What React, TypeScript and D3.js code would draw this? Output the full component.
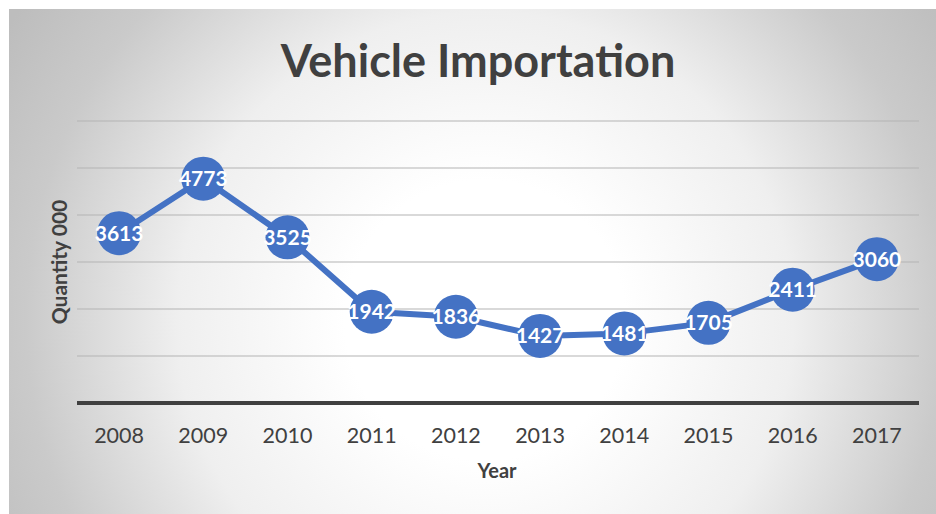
import React from "react";
import * as d3 from "d3";

const years = ["2008", "2009", "2010", "2011", "2012", "2013", "2014", "2015", "2016", "2017"];
const quantities = [3613, 4773, 3525, 1942, 1836, 1427, 1481, 1705, 2411, 3060];
const gridValues = [1000, 2000, 3000, 4000, 5000, 6000];
const titleText = "Vehicle Importation";
const xTitle = "Year";
const yTitle = "Quantity 000";

const W = 936;
const H = 514;
const plotLeft = 77;
const plotRight = 919;
const plotTop = 121;
const plotBottom = 403;
const FONT = "Lato, 'Open Sans', sans-serif";
const BLUE = "#4472C4";

export default function App() {
  const x = d3.scaleBand<string>().domain(years).range([plotLeft, plotRight]).padding(0);
  const y = d3.scaleLinear().domain([0, 6000]).range([plotBottom, plotTop]);
  const cx = (yr: string) => (x(yr) as number) + x.bandwidth() / 2;
  const line = d3
    .line<number>()
    .x((_, i) => cx(years[i]))
    .y((v) => y(v));

  return (
    <svg
      width={W}
      height={H}
      style={{ position: "absolute", left: 0, top: 0, display: "block" }}
    >
      <defs>
        <radialGradient id="bg" gradientUnits="userSpaceOnUse" cx={485} cy={320} r={560}>
          <stop offset="0" stopColor="#ffffff" />
          <stop offset="0.25" stopColor="#ffffff" />
          <stop offset="0.55" stopColor="#efefef" />
          <stop offset="0.82" stopColor="#cacaca" />
          <stop offset="1" stopColor="#bdbdbd" />
        </radialGradient>
      </defs>
      <rect x={0} y={0} width={W} height={H} fill="#ffffff" />
      <rect x={9} y={9} width={W - 9} height={H - 9} fill="url(#bg)" />

      <text
        x={478}
        y={77}
        textAnchor="middle"
        fontFamily={FONT}
        fontWeight="bold"
        fontSize={45}
        fill="#404040"
      >
        {titleText}
      </text>

      {gridValues.map((g) => (
        <line
          key={g}
          x1={plotLeft}
          x2={plotRight}
          y1={y(g)}
          y2={y(g)}
          stroke="#b4b4b4"
          strokeWidth={1.2}
        />
      ))}
      <line
        x1={plotLeft}
        x2={plotRight}
        y1={y(0)}
        y2={y(0)}
        stroke="#404040"
        strokeWidth={4}
      />

      {years.map((yr) => (
        <text
          key={yr}
          x={cx(yr)}
          y={443}
          textAnchor="middle"
          fontFamily={FONT}
          fontSize={21.5}
          fill="#404040"
        >
          {yr}
        </text>
      ))}

      <text
        x={497}
        y={478}
        textAnchor="middle"
        fontFamily={FONT}
        fontWeight="bold"
        fontSize={20}
        fill="#404040"
      >
        {xTitle}
      </text>
      <text
        transform={`translate(67,262) rotate(-90)`}
        textAnchor="middle"
        fontFamily={FONT}
        fontWeight="bold"
        fontSize={21}
        fill="#404040"
      >
        {yTitle}
      </text>

      <path
        d={line(quantities) || ""}
        fill="none"
        stroke={BLUE}
        strokeWidth={6}
        strokeLinejoin="round"
      />
      {quantities.map((v, i) => (
        <circle key={i} cx={cx(years[i])} cy={y(v)} r={22} fill={BLUE} />
      ))}
      {quantities.map((v, i) => (
        <text
          key={"l" + i}
          x={cx(years[i])}
          y={y(v) + 7.5}
          textAnchor="middle"
          fontFamily={FONT}
          fontWeight="bold"
          fontSize={21}
          fill="#ffffff"
        >
          {v}
        </text>
      ))}
    </svg>
  );
}
